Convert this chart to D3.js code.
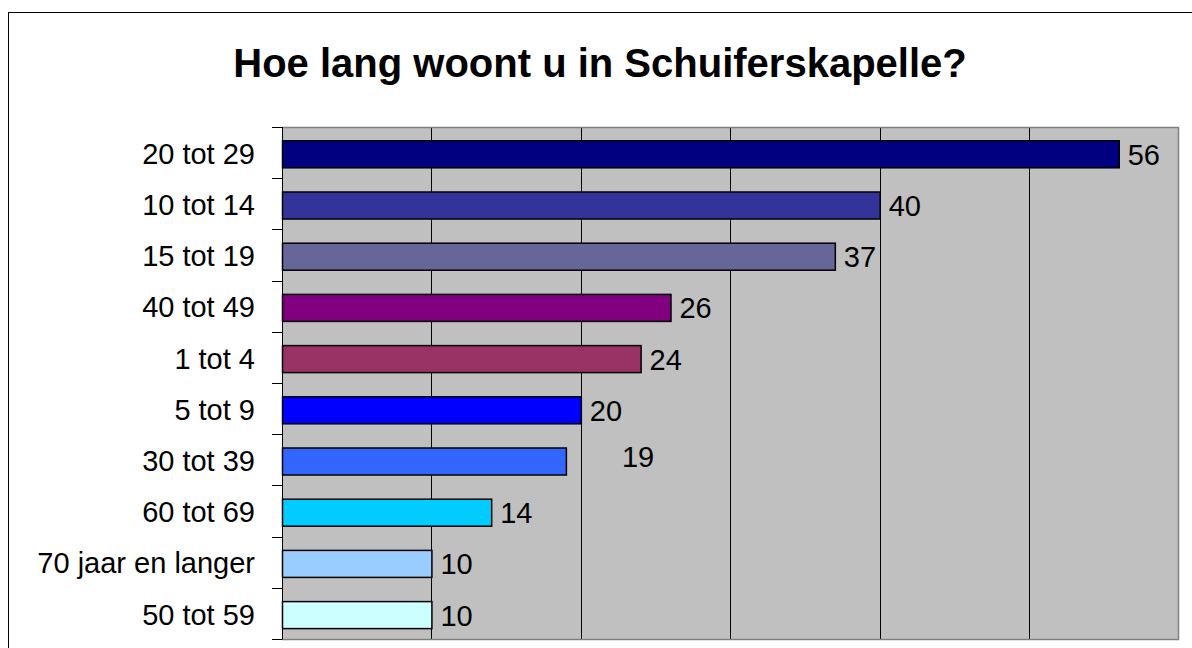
<!DOCTYPE html>
<html><head><meta charset="utf-8">
<script src="https://cdn.jsdelivr.net/npm/d3@7"></script>
<style>html,body{margin:0;padding:0;background:#fff;}svg{display:block;}</style>
</head><body>
<svg id="c" width="1192" height="648"></svg>
<script>
const categories = ["20 tot 29","10 tot 14","15 tot 19","40 tot 49","1 tot 4","5 tot 9","30 tot 39","60 tot 69","70 jaar en langer","50 tot 59"];
const values = [56,40,37,26,24,20,19,14,10,10];
const colors = ["#000080","#333399","#666699","#800080","#993366","#0000FF","#3366FF","#00CCFF","#99CCFF","#CCFFFF"];
const gridTicks = [10,20,30,40,50];
const title = "Hoe lang woont u in Schuiferskapelle?";

const svg = d3.select("#c");
const font = "'Liberation Sans', Arial, sans-serif";
const W = 1192, H = 648;
const L = 282, R = 1178.5, T = 127, B = 639;

// outer frame
svg.append("rect").attr("x",8.5).attr("y",12.5).attr("width",W+20).attr("height",H+20)
  .attr("fill","#fff").attr("stroke","#000").attr("stroke-width",1);

svg.append("text").attr("x",600).attr("y",77).attr("text-anchor","middle")
  .attr("font-family",font).attr("font-weight","bold").attr("font-size",40).text(title);

const x = d3.scaleLinear().domain([0,60]).range([L,R]);
const y = d3.scaleBand().domain(categories).range([T,B]).paddingInner(0).paddingOuter(0);

svg.append("rect").attr("x",L).attr("y",T).attr("width",R-L).attr("height",B-T).attr("fill","#C0C0C0");

// gridlines
svg.append("g").selectAll("line").data(gridTicks).join("line")
  .attr("x1",d=>Math.round(x(d))+0.5).attr("x2",d=>Math.round(x(d))+0.5)
  .attr("y1",T).attr("y2",B).attr("stroke","#000").attr("stroke-width",1);

// plot border (gray) top, right, bottom
svg.append("path").attr("d",`M${L},${T+0.5}H${R}V${B+0.5}H${L}`)
  .attr("fill","none").attr("stroke","#808080").attr("stroke-width",1.5);

const bh = 27, off = 13.8;
svg.append("g").selectAll("rect").data(values).join("rect")
  .attr("x",L+0.5).attr("y",(d,i)=>y(categories[i])+off)
  .attr("width",d=>x(d)-L).attr("height",bh)
  .attr("fill",(d,i)=>colors[i]).attr("stroke","#000").attr("stroke-width",1.5);

// value labels (label for 19 sits displaced in the original)
const shift = i => values[i]===19 ? {dx:56,dy:-5} : {dx:9,dy:0};
svg.append("g").selectAll("text").data(values).join("text")
  .attr("x",(d,i)=>x(d)+shift(i).dx)
  .attr("y",(d,i)=>y(categories[i])+off+bh/2+10.5+shift(i).dy)
  .attr("font-family",font).attr("font-size",29).attr("fill","#000").text(d=>d);

// left axis
const ax = svg.append("g");
ax.append("line").attr("x1",L+0.5).attr("x2",L+0.5).attr("y1",T).attr("y2",B+0.5).attr("stroke","#000");
const bounds = categories.map(c=>y(c)).concat([B]);
ax.selectAll(".tk").data(bounds).join("line").attr("class","tk")
  .attr("x1",272).attr("x2",L).attr("y1",d=>Math.round(d)+0.5).attr("y2",d=>Math.round(d)+0.5)
  .attr("stroke","#000");
ax.selectAll("text").data(categories).join("text")
  .attr("x",255).attr("y",d=>y(d)+off+bh/2+9.5).attr("text-anchor","end")
  .attr("font-family",font).attr("font-size",29).attr("fill","#000").text(d=>d);
</script>
</body></html>
